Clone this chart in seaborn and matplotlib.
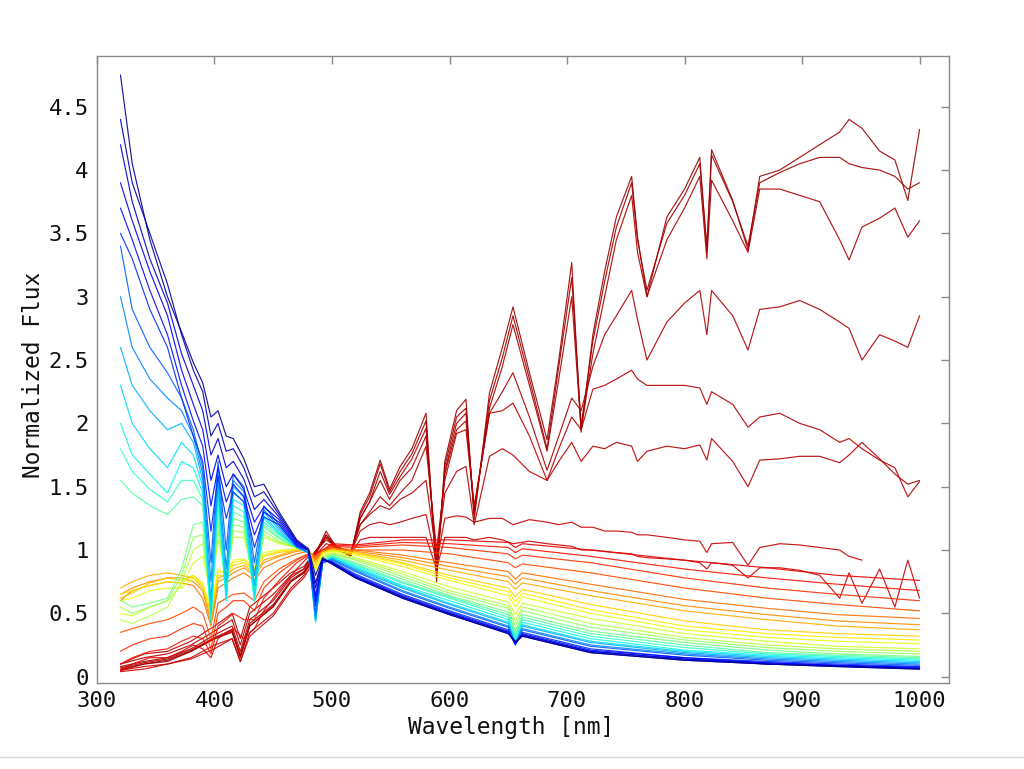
import numpy as np
import pandas as pd
import matplotlib
matplotlib.use("Agg")
import matplotlib.pyplot as plt
import seaborn as sns
from matplotlib.lines import Line2D

# ---------------- data ----------------
wl_grid = [320, 330, 345, 360, 372, 382, 390, 397, 403, 410, 416, 425, 434, 442, 455,
           470, 480, 486, 492, 500, 520, 560, 600, 650, 656, 662, 720, 800, 870, 930, 1000]

B1 = [4.75, 4.05, 3.45, 3.00, 2.72, 2.48, 2.32, 2.05, 2.10, 1.90, 1.88, 1.72, 1.50, 1.52, 1.30, 1.08, 1.01, 0.80, 0.94, 0.89, 0.78, 0.62, 0.49, 0.34, 0.28, 0.32, 0.19, 0.13, 0.10, 0.08, 0.06]
B2 = [4.40, 3.90, 3.50, 3.10, 2.70, 2.42, 2.25, 1.90, 2.00, 1.78, 1.80, 1.65, 1.42, 1.46, 1.28, 1.07, 1.00, 0.74, 0.93, 0.89, 0.78, 0.62, 0.49, 0.34, 0.27, 0.32, 0.19, 0.13, 0.10, 0.08, 0.06]
B3 = [4.20, 3.75, 3.30, 2.95, 2.55, 2.30, 2.10, 1.75, 1.88, 1.65, 1.70, 1.56, 1.32, 1.40, 1.26, 1.06, 1.00, 0.70, 0.93, 0.90, 0.79, 0.63, 0.50, 0.35, 0.27, 0.33, 0.20, 0.14, 0.10, 0.085, 0.065]
B4 = [3.90, 3.60, 3.20, 2.85, 2.42, 2.15, 1.95, 1.55, 1.75, 1.50, 1.60, 1.48, 1.22, 1.34, 1.24, 1.05, 1.00, 0.64, 0.92, 0.90, 0.79, 0.63, 0.50, 0.35, 0.26, 0.33, 0.20, 0.14, 0.11, 0.09, 0.07]
B5 = [3.70, 3.45, 3.05, 2.70, 2.30, 2.02, 1.82, 1.35, 1.65, 1.38, 1.52, 1.42, 1.12, 1.30, 1.22, 1.04, 1.00, 0.60, 0.92, 0.90, 0.80, 0.64, 0.51, 0.36, 0.26, 0.34, 0.21, 0.15, 0.11, 0.09, 0.075]
B6 = [3.50, 3.30, 2.90, 2.60, 2.20, 1.90, 1.70, 1.15, 1.58, 1.25, 1.46, 1.38, 1.02, 1.26, 1.20, 1.03, 1.00, 0.56, 0.92, 0.91, 0.81, 0.65, 0.52, 0.37, 0.26, 0.35, 0.22, 0.15, 0.12, 0.10, 0.08]
L1 = [3.40, 2.90, 2.60, 2.40, 2.20, 1.95, 1.65, 0.90, 1.70, 1.00, 1.60, 1.50, 0.90, 1.35, 1.20, 1.03, 0.98, 0.50, 0.90, 0.92, 0.83, 0.67, 0.54, 0.39, 0.25, 0.37, 0.24, 0.17, 0.13, 0.11, 0.09]
L2 = [3.00, 2.60, 2.35, 2.20, 2.10, 1.90, 1.60, 0.75, 1.62, 0.85, 1.55, 1.46, 0.80, 1.32, 1.18, 1.03, 0.98, 0.47, 0.90, 0.93, 0.84, 0.68, 0.55, 0.40, 0.25, 0.38, 0.25, 0.18, 0.14, 0.12, 0.10]
L3 = [2.60, 2.30, 2.10, 1.95, 2.00, 1.85, 1.55, 0.60, 1.55, 0.75, 1.50, 1.42, 0.72, 1.30, 1.16, 1.02, 0.98, 0.45, 0.90, 0.93, 0.85, 0.70, 0.57, 0.42, 0.26, 0.40, 0.27, 0.19, 0.15, 0.13, 0.11]
L4 = [2.30, 2.00, 1.80, 1.65, 1.85, 1.75, 1.50, 0.50, 1.50, 0.65, 1.45, 1.38, 0.65, 1.27, 1.14, 1.02, 0.98, 0.43, 0.90, 0.94, 0.86, 0.71, 0.58, 0.43, 0.27, 0.41, 0.28, 0.20, 0.16, 0.14, 0.12]
L5 = [2.00, 1.75, 1.60, 1.45, 1.70, 1.65, 1.45, 0.45, 1.45, 0.60, 1.40, 1.35, 0.60, 1.25, 1.13, 1.02, 0.98, 0.44, 0.90, 0.94, 0.87, 0.72, 0.60, 0.45, 0.29, 0.43, 0.30, 0.21, 0.17, 0.15, 0.13]
C1 = [1.80, 1.62, 1.48, 1.38, 1.55, 1.55, 1.40, 0.42, 1.40, 0.60, 1.35, 1.30, 0.60, 1.22, 1.12, 1.02, 0.98, 0.46, 0.91, 0.95, 0.88, 0.74, 0.62, 0.47, 0.31, 0.45, 0.32, 0.23, 0.18, 0.16, 0.14]
C2 = [1.55, 1.45, 1.35, 1.28, 1.40, 1.42, 1.35, 0.45, 1.35, 0.62, 1.30, 1.26, 0.62, 1.20, 1.10, 1.02, 0.98, 0.48, 0.91, 0.95, 0.89, 0.75, 0.63, 0.49, 0.33, 0.47, 0.34, 0.25, 0.19, 0.17, 0.15]
C3 = [0.60, 0.55, 0.58, 0.62, 0.85, 1.20, 1.22, 0.50, 1.30, 0.65, 1.25, 1.22, 0.65, 1.18, 1.09, 1.02, 0.99, 0.52, 0.92, 0.96, 0.90, 0.77, 0.64, 0.51, 0.36, 0.49, 0.36, 0.27, 0.21, 0.18, 0.16]
G1 = [0.55, 0.50, 0.55, 0.60, 0.80, 1.10, 1.12, 0.55, 1.22, 0.70, 1.20, 1.18, 0.70, 1.15, 1.07, 1.02, 0.99, 0.58, 0.93, 0.97, 0.92, 0.79, 0.66, 0.54, 0.40, 0.52, 0.39, 0.29, 0.23, 0.20, 0.18]
G2 = [0.45, 0.42, 0.48, 0.55, 0.75, 1.00, 1.05, 0.60, 1.15, 0.75, 1.15, 1.14, 0.75, 1.12, 1.06, 1.02, 0.99, 0.65, 0.94, 0.97, 0.93, 0.81, 0.68, 0.56, 0.44, 0.55, 0.42, 0.31, 0.25, 0.22, 0.20]
G3 = [0.50, 0.48, 0.55, 0.60, 0.72, 0.90, 0.95, 0.65, 1.08, 0.80, 1.10, 1.10, 0.80, 1.10, 1.05, 1.02, 0.99, 0.72, 0.95, 0.98, 0.94, 0.83, 0.71, 0.59, 0.49, 0.58, 0.46, 0.34, 0.28, 0.24, 0.22]
Y1 = [0.60, 0.62, 0.68, 0.70, 0.70, 0.78, 0.72, 0.55, 0.85, 0.82, 0.92, 0.93, 0.86, 0.98, 1.00, 1.01, 1.00, 0.84, 0.97, 0.99, 0.96, 0.87, 0.76, 0.64, 0.55, 0.63, 0.50, 0.37, 0.31, 0.28, 0.26]
Y2 = [0.65, 0.68, 0.72, 0.75, 0.74, 0.80, 0.74, 0.50, 0.83, 0.82, 0.90, 0.92, 0.85, 0.96, 0.99, 1.01, 1.00, 0.86, 0.98, 1.00, 0.97, 0.89, 0.78, 0.67, 0.59, 0.66, 0.53, 0.40, 0.34, 0.31, 0.29]
Y3 = [0.62, 0.66, 0.74, 0.78, 0.76, 0.80, 0.72, 0.48, 0.80, 0.80, 0.88, 0.90, 0.84, 0.95, 0.98, 1.00, 1.00, 0.88, 0.98, 1.00, 0.98, 0.90, 0.80, 0.70, 0.63, 0.69, 0.57, 0.44, 0.37, 0.34, 0.32]
O1 = [0.70, 0.75, 0.80, 0.82, 0.80, 0.78, 0.70, 0.45, 0.78, 0.80, 0.85, 0.88, 0.82, 0.92, 0.96, 1.00, 1.00, 0.90, 0.98, 1.00, 0.98, 0.92, 0.84, 0.75, 0.69, 0.74, 0.64, 0.52, 0.45, 0.40, 0.37]
O2 = [0.65, 0.70, 0.75, 0.78, 0.78, 0.75, 0.68, 0.42, 0.75, 0.78, 0.82, 0.86, 0.80, 0.90, 0.95, 0.99, 1.00, 0.92, 0.99, 1.01, 0.99, 0.94, 0.87, 0.79, 0.73, 0.78, 0.68, 0.56, 0.49, 0.44, 0.41]
O3 = [0.60, 0.68, 0.72, 0.75, 0.74, 0.72, 0.62, 0.40, 0.70, 0.74, 0.78, 0.82, 0.76, 0.86, 0.92, 0.97, 0.99, 0.94, 0.99, 1.01, 1.00, 0.96, 0.90, 0.83, 0.77, 0.82, 0.73, 0.61, 0.54, 0.49, 0.46]
R1 = [0.35, 0.38, 0.42, 0.45, 0.50, 0.55, 0.50, 0.30, 0.58, 0.62, 0.65, 0.66, 0.60, 0.75, 0.85, 0.93, 0.97, 0.95, 0.98, 1.02, 1.00, 1.00, 0.97, 0.90, 0.86, 0.89, 0.82, 0.70, 0.62, 0.57, 0.52]
R2 = [0.20, 0.25, 0.30, 0.32, 0.38, 0.42, 0.40, 0.22, 0.50, 0.55, 0.60, 0.60, 0.52, 0.70, 0.82, 0.92, 0.97, 0.96, 0.99, 1.03, 1.02, 1.04, 1.02, 0.97, 0.93, 0.96, 0.90, 0.78, 0.70, 0.65, 0.60]
R3 = [0.10, 0.15, 0.20, 0.22, 0.28, 0.32, 0.30, 0.18, 0.40, 0.45, 0.50, 0.45, 0.45, 0.62, 0.76, 0.90, 0.96, 0.97, 1.00, 1.04, 1.03, 1.06, 1.05, 1.02, 0.98, 1.01, 0.95, 0.85, 0.78, 0.73, 0.68]
R4 = [0.05, 0.10, 0.15, 0.15, 0.20, 0.25, 0.22, 0.15, 0.30, 0.35, 0.38, 0.30, 0.38, 0.52, 0.68, 0.85, 0.95, 0.97, 1.00, 1.05, 1.04, 1.08, 1.08, 1.06, 1.02, 1.05, 1.00, 0.92, 0.86, 0.80, 0.76]

wl_mstar = [320, 340, 360, 380, 400, 415, 422, 430, 450, 465, 476, 485, 495, 505, 516,
            524, 532, 541, 549, 558, 568, 580, 589, 596, 606, 614, 621, 634, 645, 654,
            668, 683, 693, 704, 712, 722, 732, 742, 755, 760, 768, 785, 800, 813, 819,
            823, 841, 854, 864, 881, 898, 915, 932, 940, 951, 966, 979, 990, 1000]

MA = [0.05, 0.10, 0.12, 0.20, 0.30, 0.35, 0.15, 0.40, 0.55, 0.75, 0.82, 0.95, 1.15, 1.00, 0.95,
      1.30, 1.45, 1.71, 1.48, 1.66, 1.80, 2.08, 0.75, 1.70, 2.10, 2.19, 1.24, 2.24, 2.60, 2.92,
      2.40, 1.87, 2.50, 3.27, 1.93, 2.70, 3.20, 3.63, 3.95, 3.47, 3.00, 3.63, 3.85, 4.10, 3.35,
      4.16, 3.76, 3.37, 3.95, 4.00, 4.10, 4.20, 4.30, 4.40, 4.33, 4.15, 4.08, 3.76, 4.32]
MB = [0.06, 0.10, 0.13, 0.20, 0.30, 0.36, 0.16, 0.40, 0.56, 0.75, 0.82, 0.95, 1.12, 1.00, 0.96,
      1.28, 1.42, 1.68, 1.46, 1.62, 1.76, 2.02, 0.80, 1.66, 2.05, 2.12, 1.28, 2.18, 2.52, 2.85,
      2.35, 1.80, 2.45, 3.15, 1.98, 2.65, 3.12, 3.55, 3.90, 3.45, 3.05, 3.58, 3.80, 4.05, 3.40,
      4.12, 3.75, 3.40, 3.90, 3.98, 4.05, 4.10, 4.10, 4.05, 4.02, 4.00, 3.95, 3.85, 3.90]
MC = [0.07, 0.11, 0.14, 0.21, 0.31, 0.37, 0.17, 0.42, 0.57, 0.76, 0.83, 0.96, 1.10, 1.00, 0.96,
      1.25, 1.38, 1.62, 1.44, 1.58, 1.72, 1.96, 0.85, 1.62, 2.00, 2.08, 1.30, 2.12, 2.45, 2.78,
      2.30, 1.78, 2.35, 3.00, 1.95, 2.55, 3.00, 3.45, 3.80, 3.35, 3.00, 3.45, 3.70, 3.95, 3.30,
      3.92, 3.60, 3.35, 3.85, 3.85, 3.80, 3.75, 3.45, 3.29, 3.55, 3.62, 3.70, 3.47, 3.60]
MD = [0.08, 0.12, 0.15, 0.22, 0.33, 0.40, 0.20, 0.45, 0.60, 0.78, 0.85, 0.97, 1.12, 1.02, 0.98,
      1.25, 1.38, 1.55, 1.40, 1.55, 1.65, 1.90, 0.90, 1.60, 1.95, 2.02, 1.34, 2.08, 2.25, 2.40,
      2.05, 1.63, 1.90, 2.20, 2.10, 2.45, 2.70, 2.85, 3.05, 2.82, 2.50, 2.80, 2.95, 3.05, 2.70,
      3.05, 2.85, 2.58, 2.90, 2.92, 2.97, 2.90, 2.80, 2.75, 2.50, 2.70, 2.65, 2.60, 2.85]
ME = [0.10, 0.15, 0.18, 0.25, 0.36, 0.45, 0.25, 0.50, 0.65, 0.80, 0.85, 0.98, 1.10, 1.02, 0.98,
      1.20, 1.30, 1.42, 1.35, 1.45, 1.55, 1.82, 1.00, 1.55, 1.92, 1.95, 1.34, 2.08, 2.10, 2.16,
      1.90, 1.55, 1.80, 2.05, 1.95, 2.27, 2.30, 2.35, 2.42, 2.35, 2.30, 2.30, 2.30, 2.28, 2.15,
      2.25, 2.15, 1.97, 2.05, 2.08, 2.00, 1.95, 1.85, 1.88, 1.80, 1.71, 1.65, 1.42, 1.54]
MF = [0.10, 0.18, 0.20, 0.28, 0.40, 0.50, 0.30, 0.55, 0.70, 0.82, 0.87, 0.98, 1.08, 1.02, 0.98,
      1.20, 1.28, 1.35, 1.32, 1.40, 1.45, 1.55, 0.95, 1.45, 1.62, 1.66, 1.20, 1.74, 1.80, 1.75,
      1.62, 1.55, 1.70, 1.85, 1.70, 1.82, 1.80, 1.85, 1.82, 1.70, 1.78, 1.82, 1.80, 1.83, 1.71,
      1.88, 1.70, 1.50, 1.71, 1.72, 1.74, 1.74, 1.69, 1.75, 1.85, 1.72, 1.60, 1.52, 1.55]
MG = [0.05, 0.08, 0.10, 0.15, 0.25, 0.30, 0.12, 0.35, 0.50, 0.70, 0.80, 0.95, 1.05, 1.02, 0.98,
      1.15, 1.20, 1.22, 1.20, 1.22, 1.25, 1.28, 0.90, 1.25, 1.27, 1.26, 1.22, 1.25, 1.25, 1.20,
      1.24, 1.22, 1.20, 1.22, 1.18, 1.18, 1.15, 1.15, 1.14, 1.12, 1.12, 1.10, 1.08, 1.07, 0.98,
      1.05, 1.06, 0.88, 1.02, 1.05, 1.04, 1.02, 1.00, 0.95, 0.92, np.nan, np.nan, np.nan, np.nan]
MH = [0.04, 0.06, 0.10, 0.14, 0.22, 0.30, 0.12, 0.32, 0.48, 0.68, 0.78, 0.92, 1.00, 1.03, 0.97,
      1.08, 1.10, 1.10, 1.10, 1.10, 1.10, 1.10, 0.85, 1.10, 1.10, 1.10, 1.08, 1.10, 1.08, 1.05,
      1.07, 1.05, 1.04, 1.03, 1.00, 1.00, 0.99, 0.98, 0.97, 0.95, 0.94, 0.93, 0.92, 0.90, 0.85,
      0.90, 0.88, 0.78, 0.86, 0.86, 0.84, 0.80, 0.62, 0.82, 0.58, 0.85, 0.55, 0.92, 0.62]

x_ticks = [300, 400, 500, 600, 700, 800, 900, 1000]
y_ticks = [0, 0.5, 1, 1.5, 2, 2.5, 3, 3.5, 4, 4.5]
y_tick_labels = ["0", "0.5", "1", "1.5", "2", "2.5", "3", "3.5", "4", "4.5"]

smooth_stars = {"B1": B1, "B2": B2, "B3": B3, "B4": B4, "B5": B5, "B6": B6,
                "L1": L1, "L2": L2, "L3": L3, "L4": L4, "L5": L5,
                "C1": C1, "C2": C2, "C3": C3, "G1": G1, "G2": G2, "G3": G3,
                "Y1": Y1, "Y2": Y2, "Y3": Y3, "O1": O1, "O2": O2, "O3": O3,
                "R1": R1, "R2": R2, "R3": R3, "R4": R4}
m_stars = {"MH": MH, "MG": MG, "MF": MF, "ME": ME, "MD": MD, "MC": MC, "MB": MB, "MA": MA}

# colour position of each spectrum on the jet map (style)
jet_pos = {"B1": 0.02, "B2": 0.05, "B3": 0.08, "B4": 0.11, "B5": 0.14, "B6": 0.17,
           "L1": 0.22, "L2": 0.26, "L3": 0.30, "L4": 0.34, "L5": 0.37,
           "C1": 0.41, "C2": 0.45, "C3": 0.49, "G1": 0.53, "G2": 0.57, "G3": 0.60,
           "Y1": 0.63, "Y2": 0.66, "Y3": 0.69, "O1": 0.73, "O2": 0.76, "O3": 0.79,
           "R1": 0.83, "R2": 0.86, "R3": 0.89, "R4": 0.91,
           "MH": 0.93, "MG": 0.94, "MF": 0.95, "ME": 0.95, "MD": 0.96, "MC": 0.96,
           "MB": 0.97, "MA": 0.97}

frames = []
for name, vals in smooth_stars.items():
    frames.append(pd.DataFrame({"wl": wl_grid, "flux": vals, "star": name}))
for name, vals in m_stars.items():
    frames.append(pd.DataFrame({"wl": wl_mstar, "flux": vals, "star": name}))
df = pd.concat(frames, ignore_index=True).dropna()

cmap = matplotlib.colormaps["jet"]
palette = {k: cmap(v) for k, v in jet_pos.items()}
order = sorted(jet_pos, key=lambda k: -jet_pos[k])  # red drawn first, blue on top

# ---------------- figure ----------------
sns.set_theme(style="white")
plt.rcParams["font.family"] = ["DejaVu Sans Mono"]

fig = plt.figure(figsize=(10.24, 7.69), dpi=100)
ax = fig.add_axes([0.0947, 0.1118, 0.832, 0.8153])

sns.lineplot(data=df, x="wl", y="flux", hue="star", hue_order=order,
             palette=palette, estimator=None, sort=False, linewidth=0.85,
             alpha=0.9, legend=False, ax=ax)

ax.set_xlim(300, 1025)
ax.set_ylim(-0.05, 4.9)
ax.set_xticks(x_ticks)
ax.set_xticklabels([str(t) for t in x_ticks])
ax.set_yticks(y_ticks)
ax.set_yticklabels(y_tick_labels)
ax.tick_params(direction="in", length=6, width=1, color="#8a8a8a",
               top=True, right=True, labelsize=16, labelcolor="#111111", pad=6)
for sp in ax.spines.values():
    sp.set_color("#8a8a8a")
    sp.set_linewidth(1.0)
ax.set_xlabel("Wavelength [nm]", fontsize=16.5, color="#111111")
ax.set_ylabel("Normalized Flux", fontsize=16.5, color="#111111")
ax.xaxis.set_label_coords(0.486, -0.053)
ax.yaxis.set_label_coords(-0.061, 0.491)

fig.add_artist(Line2D([0, 1], [12 / 769, 12 / 769], transform=fig.transFigure,
                      color="#d8d8d8", linewidth=1))

fig.savefig("out.png", dpi=100, facecolor="white")
